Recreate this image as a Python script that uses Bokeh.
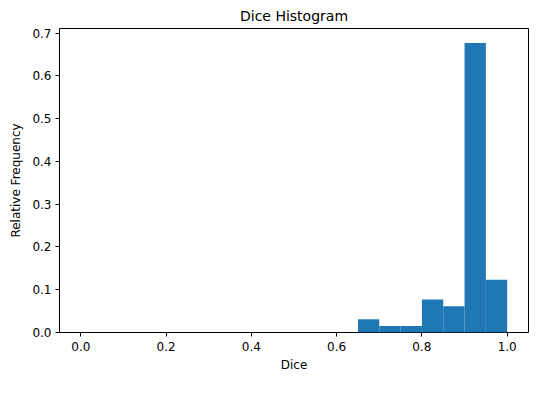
from bokeh.plotting import figure
from bokeh.models import Range1d, FixedTicker, NumeralTickFormatter
from bokeh.embed import file_html
from bokeh.resources import INLINE

bin_left = [0.65, 0.70, 0.75, 0.80, 0.85, 0.90, 0.95]
bin_right = [0.70, 0.75, 0.80, 0.85, 0.90, 0.95, 1.00]
rel_freq = [0.0308, 0.0154, 0.0154, 0.0769, 0.0615, 0.6769, 0.1231]
x_ticks = [0.0, 0.2, 0.4, 0.6, 0.8, 1.0]
y_ticks = [0.0, 0.1, 0.2, 0.3, 0.4, 0.5, 0.6, 0.7]

FONT = "DejaVu Sans"

p = figure(width=529, height=377, output_backend="svg", toolbar_location=None,
           x_range=Range1d(-0.05, 1.05), y_range=Range1d(0, 0.7108),
           title="Dice Histogram", min_border_left=59, min_border_right=1,
           min_border_top=28, min_border_bottom=45)

p.quad(left=bin_left, right=bin_right, bottom=0, top=rel_freq,
       fill_color="#1f77b4", line_color=None)

p.title.align = "center"
p.title.text_font = FONT
p.title.text_font_size = "14px"
p.title.text_font_style = "normal"
p.title.text_color = "#000000"

p.xgrid.visible = False
p.ygrid.visible = False
p.outline_line_color = "#000000"
p.outline_line_width = 1
p.background_fill_color = "white"
p.border_fill_color = "white"

for ax in (p.xaxis[0], p.yaxis[0]):
    ax.axis_line_color = None
    ax.major_tick_line_color = "#000000"
    ax.major_tick_out = 4
    ax.major_tick_in = 0
    ax.minor_tick_line_color = None
    ax.major_label_text_font = FONT
    ax.major_label_text_font_size = "12px"
    ax.major_label_text_color = "#000000"
    ax.axis_label_text_font = FONT
    ax.axis_label_text_font_size = "12px"
    ax.axis_label_text_font_style = "normal"
    ax.axis_label_text_color = "#000000"
    ax.formatter = NumeralTickFormatter(format="0.0")

p.xaxis.ticker = FixedTicker(ticks=x_ticks)
p.yaxis.ticker = FixedTicker(ticks=y_ticks)
p.xaxis.axis_label = "Dice"
p.yaxis.axis_label = "Relative Frequency"
p.xaxis.major_label_standoff = 5
p.yaxis.major_label_standoff = 4
p.xaxis.axis_label_standoff = 4
p.yaxis.axis_label_standoff = 6

open("out.html", "w").write(file_html(p, INLINE))
